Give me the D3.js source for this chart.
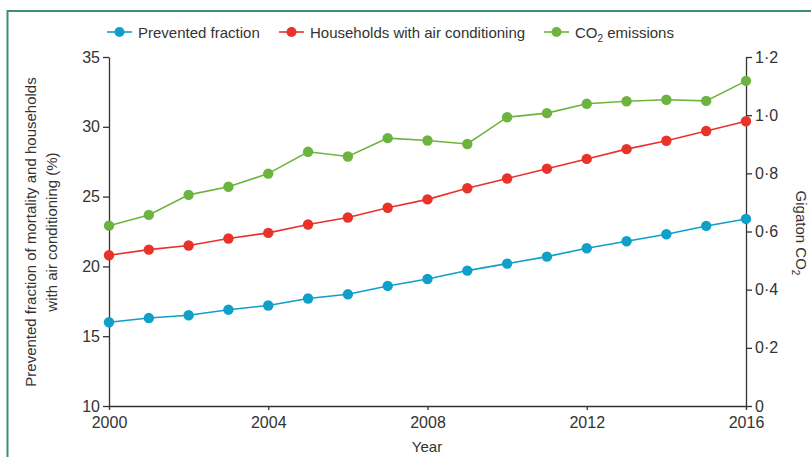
<!DOCTYPE html>
<html><head><meta charset="utf-8">
<script src="https://cdn.jsdelivr.net/npm/d3@7"></script>
<style>
body{margin:0;background:#fff;}
text{font-family:"Liberation Sans",Arial,sans-serif;fill:#333;}
</style></head>
<body><svg id="c" width="811" height="457"></svg>
<script>
const years = d3.range(2000, 2017);
const prevented = [16.0,16.3,16.5,16.9,17.2,17.7,18.0,18.6,19.1,19.7,20.2,20.7,21.3,21.8,22.3,22.9,23.4];
const households = [20.8,21.2,21.5,22.0,22.4,23.0,23.5,24.2,24.8,25.6,26.3,27.0,27.7,28.4,29.0,29.7,30.4];
const co2 = [0.620,0.657,0.726,0.754,0.799,0.874,0.858,0.921,0.913,0.901,0.993,1.007,1.039,1.048,1.053,1.049,1.118];
const xTicks = [2000,2004,2008,2012,2016];
const leftTicks = [10,15,20,25,30,35];
const rightTicks = [0,0.2,0.4,0.6,0.8,1.0,1.2];
const seriesNames = ["Prevented fraction","Households with air conditioning","CO₂ emissions"];
const colors = ["#0f9fc8","#e8322a","#6db33f"];

const svg = d3.select("#c");
// frame
svg.append("rect").attr("x",7.5).attr("y",11).attr("width",900).attr("height",600)
  .attr("fill","none").attr("stroke","#3e8f6c").attr("stroke-width",2);

const x = d3.scaleLinear().domain([2000,2016]).range([109,746]);
const yL = d3.scaleLinear().domain([10,35]).range([406,57]);
const yR = d3.scaleLinear().domain([0,1.2]).range([406,57]);

function styleAxis(g){
  g.selectAll("path,line").attr("stroke","#333").attr("stroke-width",1.3);
  g.selectAll("text").attr("font-family","Liberation Sans, Arial, sans-serif").attr("font-size",16).attr("fill","#333");
}
const fmtR = d => d===0 ? "0" : d.toFixed(1).replace(".", "·");

svg.append("g").attr("transform","translate(0,406)")
  .call(d3.axisBottom(x).tickValues(xTicks).tickFormat(d3.format("d")).tickSize(4).tickPadding(7).tickSizeOuter(0))
  .call(styleAxis);
svg.append("g").attr("transform","translate(109,0)")
  .call(d3.axisLeft(yL).tickValues(leftTicks).tickSize(6).tickPadding(3).tickSizeOuter(0))
  .call(styleAxis);
svg.append("g").attr("transform","translate(746,0)")
  .call(d3.axisRight(yR).tickValues(rightTicks).tickFormat(fmtR).tickSize(6).tickPadding(3).tickSizeOuter(0))
  .call(styleAxis);

// axis titles
svg.append("text").attr("x",427).attr("y",452).attr("text-anchor","middle").attr("font-size",15).text("Year");
const yl = svg.append("text").attr("transform","translate(36,232) rotate(-90)").attr("text-anchor","middle").attr("font-size",15);
yl.append("tspan").attr("x",0).attr("dy",0).text("Prevented fraction of mortality and households");
yl.append("tspan").attr("x",0).attr("dy",21).text("with air conditioning (%)");
const yr = svg.append("text").attr("transform","translate(796,233) rotate(90)").attr("text-anchor","middle").attr("font-size",15);
yr.append("tspan").text("Gigaton CO");
yr.append("tspan").attr("font-size",10).attr("dy",4).text("2");

// series
const data = [
  {vals: prevented, y: yL},
  {vals: households, y: yL},
  {vals: co2, y: yR}
];
data.forEach((s,i)=>{
  const pts = years.map((yr,j)=>[x(yr), s.y(s.vals[j])]);
  svg.append("path").attr("d", d3.line()(pts)).attr("fill","none").attr("stroke",colors[i]).attr("stroke-width",1.6);
  svg.append("g").selectAll("circle").data(pts).join("circle")
    .attr("cx",d=>d[0]).attr("cy",d=>d[1]).attr("r",5.2).attr("fill",colors[i]);
});

// legend
const legX = [107, 279, 544];
const lg = svg.append("g");
seriesNames.forEach((n,i)=>{
  const g = lg.append("g").attr("transform",`translate(${legX[i]},32)`);
  g.append("line").attr("x1",0).attr("x2",25).attr("stroke",colors[i]).attr("stroke-width",1.6);
  g.append("circle").attr("cx",12.5).attr("r",5).attr("fill",colors[i]);
  const t = g.append("text").attr("x",31).attr("y",6).attr("font-size",15);
  if(i===2){
    t.append("tspan").text("CO");
    t.append("tspan").attr("font-size",10).attr("dy",4).text("2");
    t.append("tspan").attr("dy",-4).text(" emissions");
  } else t.text(n);
});
</script></body></html>
